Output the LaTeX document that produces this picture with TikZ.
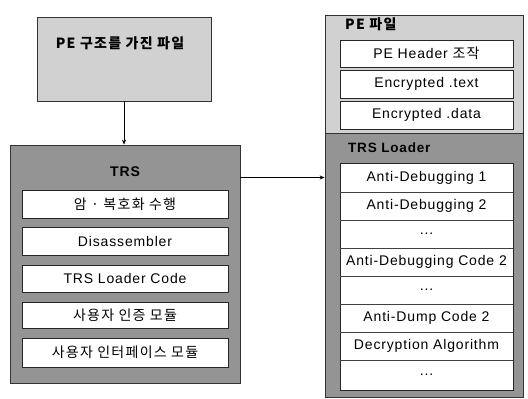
\documentclass[tikz,border=0pt]{standalone}
\usepackage{fontspec}
\setmainfont{Liberation Sans}[LetterSpace=6]
\newfontfamily\cjk{Noto Sans CJK KR}[LetterSpace=9]
\usetikzlibrary{arrows.meta}
\tikzset{
  x=1pt,y=-1pt,
  outer/.style={draw=black!80,line width=0.8pt,inner sep=0pt},
  light/.style={outer,fill=black!18},
  dark/.style={outer,fill=black!42},
  cell/.style={draw=black!85,line width=0.6pt,fill=white,inner sep=0pt,font=\fontsize{14}{16}\selectfont},
  row/.style={fill=white,inner sep=0pt,font=\fontsize{14}{16}\selectfont},
  ttl/.style={inner sep=0pt,font=\fontsize{14}{16}\selectfont\bfseries},
  kttl/.style={inner sep=0pt,font=\fontsize{14}{16}\selectfont\cjk\bfseries},
  arr/.style={-{Stealth[length=5pt,width=4pt]},line width=0.7pt}
}
\begin{document}
\begin{tikzpicture}
\useasboundingbox (0,0) rectangle (528,399);
% left top box
\node[light,minimum width=174pt,minimum height=84pt] (pe0) at (124,59) {};
\node[kttl] (pe0t) at (120,43) {PE 구조를 가진 파일};
% TRS box
\node[dark,minimum width=230pt,minimum height=238pt] (trs) at (125,264) {};
\node[ttl] (trst) at (125,172) {TRS};
\node[cell,minimum width=206pt,minimum height=28pt] (t1) at (125,204) {\cjk 암 · 복호화 수행};
\node[cell,minimum width=206pt,minimum height=28pt] (t2) at (125,241) {Disassembler};
\node[cell,minimum width=206pt,minimum height=27pt] (t3) at (125,278.5) {TRS Loader Code};
\node[cell,minimum width=206pt,minimum height=26pt] (t4) at (125,315) {\cjk 사용자 인증 모듈};
\node[cell,minimum width=206pt,minimum height=29pt] (t5) at (125,352.5) {\cjk 사용자 인터페이스 모듈};
% right box
\node[light,minimum width=198pt,minimum height=118pt] (pe) at (424,74) {};
\node[dark,minimum width=198pt,minimum height=264pt] (loader) at (424,265) {};
\node[kttl,anchor=west] (pet) at (345,24) {PE 파일};
\node[cell,minimum width=173pt,minimum height=27pt] (p1) at (426.5,53.5) {PE Header {\cjk 조작}};
\node[cell,minimum width=173pt,minimum height=28pt] (p2) at (426.5,84) {Encrypted .text};
\node[cell,minimum width=173pt,minimum height=28pt] (p3) at (426.5,115) {Encrypted .data};
\node[ttl,anchor=west,font=\fontsize{13.5}{16}\selectfont\bfseries] (ldt) at (348,148) {TRS Loader};
\node[draw=black!85,line width=0.6pt,fill=white,minimum width=173pt,minimum height=227pt,inner sep=0pt] (col) at (426.5,276.5) {};
\node[row] (l1) at (426.5,177.5) {Anti-Debugging 1};
\node[row] (l2) at (426.5,206) {Anti-Debugging 2};
\node[row] (l3) at (426.5,234) {...};
\node[row] (l4) at (426.5,262) {Anti-Debugging Code 2};
\node[row] (l5) at (426.5,290) {...};
\node[row] (l6) at (426.5,318) {Anti-Dump Code 2};
\node[row] (l7) at (426.5,346) {Decryption Algorithm};
\node[row] (l8) at (426.5,375) {...};
\foreach \y in {192,220,248,276,304,332,360}
  \draw[black!75,line width=0.5pt] (col.west |- 0,\y) -- (col.east |- 0,\y);
% connectors
\draw[arr] (pe0.south) -- (trs.north -| pe0.south);
\draw[arr] (trs.east |- l1) -- (loader.west |- l1);
\end{tikzpicture}
\end{document}
